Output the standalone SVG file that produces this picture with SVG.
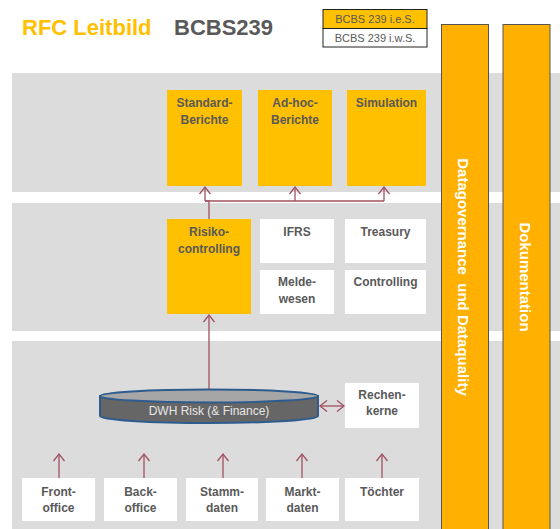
<svg xmlns="http://www.w3.org/2000/svg" width="560" height="529" viewBox="0 0 560 529">
<defs>
<style>
.band{fill:#DCDCDC}
.box{fill:#FFFFFF}
.obox{fill:#FFC000}
.lbl{font-family:"Liberation Sans",Arial,sans-serif;font-weight:bold;font-size:12px;fill:#595959;text-anchor:middle}
.bar{fill:#FFB000;stroke:#555555;stroke-width:1}
.vt{font-family:"Liberation Sans",Arial,sans-serif;font-weight:bold;font-size:15px;fill:#FFFFFF;text-anchor:middle;dominant-baseline:central}
.con{fill:none;stroke:#A0505F;stroke-width:1.3}
.leg{font-family:"Liberation Sans",Arial,sans-serif;font-size:11px;fill:#595959;text-anchor:middle}
</style>
<marker id="ah" viewBox="-8 -6 10 12" markerWidth="10" markerHeight="12" refX="0" refY="0" orient="auto" markerUnits="userSpaceOnUse">
<path d="M-7,-5.5 L0,0 L-7,5.5" fill="none" stroke="#A0505F" stroke-width="1.3"/>
</marker>
<marker id="ahs" viewBox="-8 -6 10 12" markerWidth="10" markerHeight="12" refX="0" refY="0" orient="auto-start-reverse" markerUnits="userSpaceOnUse">
<path d="M-7,-5.5 L0,0 L-7,5.5" fill="none" stroke="#A0505F" stroke-width="1.3"/>
</marker>
</defs>
<rect width="560" height="529" fill="#FFFFFF"/>
<g id="title">
<text x="22" y="35" font-family="'Liberation Sans',Arial,sans-serif" font-weight="bold" font-size="22" fill="#FFC000">RFC Leitbild</text>
<text x="174" y="35" font-family="'Liberation Sans',Arial,sans-serif" font-weight="bold" font-size="22" fill="#595959">BCBS239</text>
</g>
<g id="legend">
<rect x="323" y="9.5" width="104" height="19" fill="#FFC000" stroke="#222222" stroke-width="1"/>
<rect x="323" y="28.5" width="104" height="18.5" fill="#FFFFFF" stroke="#222222" stroke-width="1"/>
<text class="leg" x="375" y="23">BCBS 239 i.e.S.</text>
<text class="leg" x="375" y="42">BCBS 239 i.w.S.</text>
</g>
<g id="bands">
<rect class="band" x="12" y="73" width="548" height="119"/>
<rect class="band" x="12" y="203" width="548" height="128"/>
<rect class="band" x="12" y="341" width="548" height="188"/>
</g>
<g id="bar-datagovernance">
<rect class="bar" x="441.5" y="24.5" width="47" height="506"/>
<text class="vt" transform="translate(463,277) rotate(90)" x="0" y="0" xml:space="preserve">Datagovernance  und Dataquality</text>
</g>
<g id="bar-dokumentation">
<rect class="bar" x="503" y="24.5" width="47" height="506"/>
<text class="vt" transform="translate(525,277) rotate(90)" x="0" y="0">Dokumentation</text>
</g>
<g id="standard-berichte">
<rect class="obox" x="167" y="90" width="75" height="96"/>
<text class="lbl" x="204.5" y="107">Standard-</text>
<text class="lbl" x="204.5" y="124">Berichte</text>
</g>
<g id="adhoc-berichte">
<rect class="obox" x="258" y="90" width="74" height="96"/>
<text class="lbl" x="295" y="107">Ad-hoc-</text>
<text class="lbl" x="295" y="124">Berichte</text>
</g>
<g id="simulation">
<rect class="obox" x="347" y="90" width="79" height="96"/>
<text class="lbl" x="386.5" y="107">Simulation</text>
</g>
<g id="risikocontrolling">
<rect class="obox" x="167" y="219" width="84" height="95"/>
<text class="lbl" x="209" y="236">Risiko-</text>
<text class="lbl" x="209" y="253">controlling</text>
</g>
<g id="ifrs">
<rect class="box" x="260" y="219" width="74" height="44"/>
<text class="lbl" x="297" y="236">IFRS</text>
</g>
<g id="treasury">
<rect class="box" x="345" y="219" width="81" height="44"/>
<text class="lbl" x="385.5" y="236">Treasury</text>
</g>
<g id="meldewesen">
<rect class="box" x="260" y="270" width="74" height="44"/>
<text class="lbl" x="297" y="286">Melde-</text>
<text class="lbl" x="297" y="303">wesen</text>
</g>
<g id="controlling">
<rect class="box" x="345" y="270" width="81" height="44"/>
<text class="lbl" x="385.5" y="286">Controlling</text>
</g>
<g id="dwh">
<path d="M100,396 L100,416 A109,7 0 0 0 318,416 L318,396 Z" fill="#666666" stroke="#2E5C8E" stroke-width="2"/>
<ellipse cx="209" cy="396" rx="109" ry="6.5" fill="#A6A6A6" stroke="#2E5C8E" stroke-width="2"/>
<text x="209" y="415" font-family="'Liberation Sans',Arial,sans-serif" font-size="12" fill="#E6E6E6" text-anchor="middle">DWH Risk (&amp; Finance)</text>
</g>
<g id="rechenkerne">
<rect class="box" x="345" y="383" width="74" height="45"/>
<text class="lbl" x="382" y="399">Rechen-</text>
<text class="lbl" x="382" y="415">kerne</text>
</g>
<g id="frontoffice">
<rect class="box" x="22" y="478" width="73" height="43"/>
<text class="lbl" x="58.5" y="496">Front-</text>
<text class="lbl" x="58.5" y="512">office</text>
</g>
<g id="backoffice">
<rect class="box" x="104" y="478" width="73" height="43"/>
<text class="lbl" x="140.5" y="496">Back-</text>
<text class="lbl" x="140.5" y="512">office</text>
</g>
<g id="stammdaten">
<rect class="box" x="186" y="478" width="72" height="43"/>
<text class="lbl" x="222" y="496">Stamm-</text>
<text class="lbl" x="222" y="512">daten</text>
</g>
<g id="marktdaten">
<rect class="box" x="266" y="478" width="73" height="43"/>
<text class="lbl" x="302.5" y="496">Markt-</text>
<text class="lbl" x="302.5" y="512">daten</text>
</g>
<g id="toechter">
<rect class="box" x="345" y="478" width="74" height="43"/>
<text class="lbl" x="382" y="496">Töchter</text>
</g>
<g id="connectors">
<path class="con" d="M209,219 L209,201 L205,201"/>
<path class="con" d="M205,201 L384,201"/>
<path class="con" d="M205,201 L205,187" marker-end="url(#ah)"/>
<path class="con" d="M295,201 L295,187" marker-end="url(#ah)"/>
<path class="con" d="M384,201 L384,187" marker-end="url(#ah)"/>
<path class="con" d="M209,389 L209,315" marker-end="url(#ah)"/>
<path class="con" d="M320,406 L344,406" marker-start="url(#ahs)" marker-end="url(#ah)"/>
<path class="con" d="M59,478 L59,454" marker-end="url(#ah)"/>
<path class="con" d="M144,478 L144,454" marker-end="url(#ah)"/>
<path class="con" d="M223,478 L223,454" marker-end="url(#ah)"/>
<path class="con" d="M302,478 L302,454" marker-end="url(#ah)"/>
<path class="con" d="M382,478 L382,454" marker-end="url(#ah)"/>
</g>
</svg>
